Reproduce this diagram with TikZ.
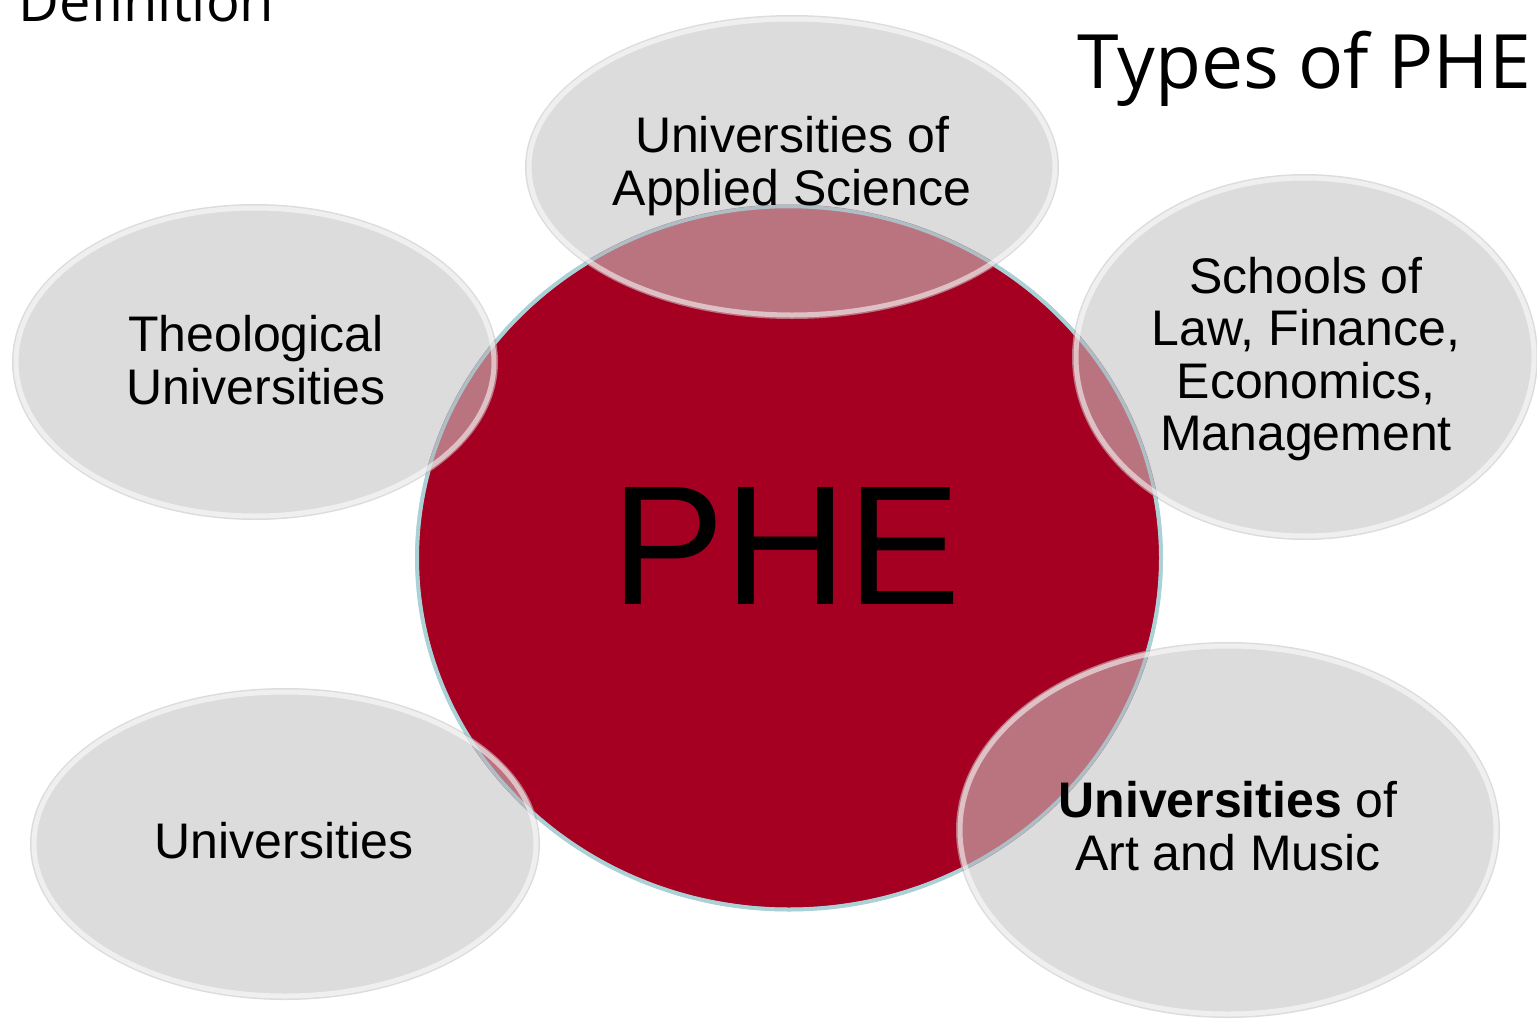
\documentclass[tikz,border=0pt]{standalone}
\usepackage{fontspec}
\setmainfont{Liberation Sans}
\newfontfamily\titlefont{Open Sans}
\usetikzlibrary{shapes.geometric}
\definecolor{phered}{RGB}{165,0,33}
\definecolor{ellgray}{RGB}{220,220,220}
\definecolor{overlapc}{RGB}{185,116,128}
\definecolor{rimblue}{RGB}{170,210,214}
\begin{document}
\begin{tikzpicture}[x=1pt,y=-1pt,
  bubble/.style={ellipse, fill=ellgray, inner sep=0pt, outer sep=0pt},
  lbl/.style={align=center, inner sep=0pt, font=\fontsize{50}{52.5}\selectfont, text=black},
  rim/.style={white, opacity=0.55, line width=5pt},
  title/.style={inner sep=0pt, font=\titlefont\fontsize{75}{80}\selectfont}
]
\useasboundingbox (0,0) rectangle (1537,1020);
% bubbles
\node[bubble, minimum width=534, minimum height=304] (appl) at (792,167) {};
\node[bubble, minimum width=486, minimum height=316] (theo) at (255,362) {};
\node[bubble, minimum width=466, minimum height=366] (law) at (1305,357) {};
\node[bubble, minimum width=510, minimum height=312] (univ) at (285,844) {};
\node[bubble, minimum width=544, minimum height=376] (art) at (1228,830) {};
% central circle
\node[ellipse, fill=phered, draw=rimblue, line width=4pt, inner sep=0pt, outer sep=0pt,
      minimum width=744, minimum height=703] (phe) at (789,558) {};
% overlaps
\begin{scope}
  \clip (phe.center) ellipse [x radius=374, y radius=353.5];
  \fill[overlapc] (appl.center) ellipse [x radius=267, y radius=152];
  \fill[overlapc] (theo.center) ellipse [x radius=243, y radius=158];
  \fill[overlapc] (law.center) ellipse [x radius=233, y radius=183];
  \fill[overlapc] (univ.center) ellipse [x radius=255, y radius=156];
  \fill[overlapc] (art.center) ellipse [x radius=272, y radius=188];
\end{scope}
\draw[rimblue, line width=3.5pt, opacity=0.8] (phe.center) ellipse [x radius=372, y radius=351.5];
% glassy rims
\draw[rim] (appl.center) ellipse [x radius=263, y radius=148];
\draw[rim] (theo.center) ellipse [x radius=239, y radius=154];
\draw[rim] (law.center) ellipse [x radius=229, y radius=179];
\draw[rim] (univ.center) ellipse [x radius=251, y radius=152];
\draw[rim] (art.center) ellipse [x radius=268, y radius=184];
% texts
\node[inner sep=0pt, font=\fontsize{170}{170}\selectfont] (phetext) at (786,546) {PHE};
\node[lbl] (appltext) at (792,166) {Universities of\\Applied Science};
\node[lbl] (theotext) at (256,360) {Theological\\Universities};
\node[lbl] (lawtext) at (1306,359) {Schools of\\Law, Finance,\\Economics,\\Management};
\node[lbl, anchor=base] (univtext) at (284,858) {Universities};
\node[lbl] (arttext) at (1228,826) {\textbf{Universities} of\\Art and Music};
\node[title, anchor=base east] (types) at (1531,88) {Types of PHE};
\node[title, anchor=base west, font=\titlefont\fontsize{56}{60}\selectfont] (defn) at (18,21) {Definition};
\end{tikzpicture}
\end{document}
